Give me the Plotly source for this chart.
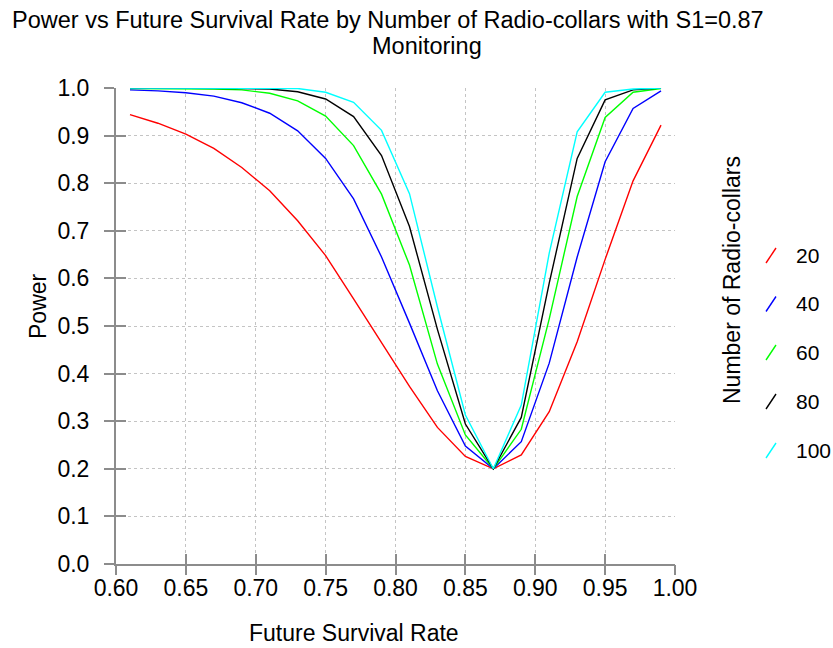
import plotly.graph_objects as go

# ---------------- data ----------------
survival_rate = [0.61, 0.63, 0.65, 0.67, 0.69, 0.71, 0.73, 0.75, 0.77, 0.79,
                 0.81, 0.83, 0.85, 0.87, 0.89, 0.91, 0.93, 0.95, 0.97, 0.99]

collar_counts = ["20", "40", "60", "80", "100"]

power_20 = [0.944, 0.926, 0.903, 0.873, 0.833, 0.784, 0.721, 0.648, 0.557, 0.466,
            0.373, 0.287, 0.226, 0.200, 0.229, 0.320, 0.467, 0.640, 0.805, 0.922]
power_40 = [0.996, 0.994, 0.990, 0.983, 0.969, 0.947, 0.910, 0.852, 0.767, 0.645,
            0.506, 0.364, 0.248, 0.200, 0.257, 0.422, 0.645, 0.845, 0.957, 0.994]
power_60 = [0.999, 0.999, 0.999, 0.998, 0.996, 0.989, 0.973, 0.941, 0.879, 0.777,
            0.628, 0.420, 0.271, 0.200, 0.283, 0.515, 0.772, 0.938, 0.991, 0.999]
power_80 = [1.000, 1.000, 1.000, 1.000, 0.999, 0.998, 0.992, 0.977, 0.940, 0.858,
            0.709, 0.493, 0.294, 0.200, 0.308, 0.590, 0.852, 0.975, 0.996, 1.000]
power_100 = [1.000, 1.000, 1.000, 1.000, 1.000, 1.000, 0.999, 0.991, 0.970, 0.911,
             0.778, 0.540, 0.313, 0.200, 0.334, 0.653, 0.908, 0.991, 0.998, 1.000]

x_tick_values = [0.60, 0.65, 0.70, 0.75, 0.80, 0.85, 0.90, 0.95, 1.00]
x_tick_labels = ["0.60", "0.65", "0.70", "0.75", "0.80", "0.85", "0.90", "0.95", "1.00"]
y_tick_values = [0.0, 0.1, 0.2, 0.3, 0.4, 0.5, 0.6, 0.7, 0.8, 0.9, 1.0]
y_tick_labels = ["0.0", "0.1", "0.2", "0.3", "0.4", "0.5", "0.6", "0.7", "0.8", "0.9", "1.0"]

series_values = [power_20, power_40, power_60, power_80, power_100]
series_colors = ["#ff0000", "#0000ff", "#00ff00", "#000000", "#00ffff"]

# ---------------- layout helpers ----------------
W, H = 833, 648
L, R, T, B = 116, 158, 88, 84
PW, PH = W - L - R, H - T - B
FONT = "Liberation Sans, Arial, sans-serif"
AXIS_GRAY = "#8c8c8c"
GRID_GRAY = "#c4c4c4"


def px(x):
    return (x - L) / PW


def py(y):
    return (H - B - y) / PH


fig = go.Figure()
for name, vals, color in zip(collar_counts, series_values, series_colors):
    fig.add_trace(go.Scatter(x=survival_rate, y=vals, mode="lines", name=name,
                             line=dict(color=color, width=1.4), showlegend=False))

# helper trace so the overlay axes (other tick halves) are drawn
fig.add_trace(go.Scatter(x=[survival_rate[0]], y=[power_20[0]], xaxis="x2", yaxis="y2",
                         mode="markers", marker=dict(opacity=0), showlegend=False,
                         hoverinfo="skip"))

tickfont = dict(size=23, family=FONT, color="black")

fig.update_layout(
    width=W, height=H,
    margin=dict(l=L, r=R, t=T, b=B),
    paper_bgcolor="white", plot_bgcolor="white",
    font=dict(family=FONT, size=23, color="black"),
    showlegend=False,
    xaxis=dict(range=[0.6, 1.0], tickvals=x_tick_values, ticktext=x_tick_labels,
               showgrid=True, gridcolor=GRID_GRAY, griddash="dot", gridwidth=1,
               showline=True, linecolor=AXIS_GRAY, linewidth=2,
               ticks="inside", ticklen=10, tickwidth=2, tickcolor=AXIS_GRAY,
               ticklabelstandoff=2, zeroline=False, tickfont=tickfont),
    yaxis=dict(range=[0, 1.0], tickvals=y_tick_values, ticktext=y_tick_labels,
               showgrid=True, gridcolor=GRID_GRAY, griddash="dot", gridwidth=1,
               showline=True, linecolor=AXIS_GRAY, linewidth=2,
               ticks="outside", ticklen=10, tickwidth=2, tickcolor=AXIS_GRAY,
               ticklabelstandoff=10, zeroline=False, tickfont=tickfont),
    xaxis2=dict(range=[0.6, 1.0], tickvals=x_tick_values, overlaying="x", anchor="y2",
                side="bottom", ticks="outside", ticklen=10, tickwidth=2, tickcolor=AXIS_GRAY,
                showticklabels=False, showgrid=False, showline=False, zeroline=False),
    yaxis2=dict(range=[0, 1.0], tickvals=y_tick_values, overlaying="y", anchor="x2",
                side="left", ticks="inside", ticklen=10, tickwidth=2, tickcolor=AXIS_GRAY,
                showticklabels=False, showgrid=False, showline=False, zeroline=False),
)

annotations = [
    dict(text="Power vs Future Survival Rate by Number of Radio-collars with S1=0.87",
         x=px(388), y=py(20), xanchor="center", yanchor="middle",
         font=dict(size=23.5, family=FONT, color="black")),
    dict(text="Monitoring", x=px(427), y=py(46), xanchor="center", yanchor="middle",
         font=dict(size=23.5, family=FONT, color="black")),
    dict(text="Power", x=px(38), y=py(306), textangle=-90, xanchor="center", yanchor="middle"),
    dict(text="Future Survival Rate", x=px(354), y=py(633), xanchor="center", yanchor="middle"),
    dict(text="Number of Radio-collars", x=px(732), y=py(280), textangle=-90,
         xanchor="center", yanchor="middle"),
]

legend_rows = [255, 303.5, 352, 401, 450]
shapes = []
for label, color, ly in zip(collar_counts, series_colors, legend_rows):
    annotations.append(dict(text=label, x=px(794), y=py(ly), xanchor="left", yanchor="middle",
                            font=dict(size=21, family=FONT, color="black")))
    shapes.append(dict(type="line", xref="paper", yref="paper",
                       x0=px(766), y0=py(ly + 8), x1=px(776), y1=py(ly - 7),
                       line=dict(color=color, width=1.4)))

for a in annotations:
    a.setdefault("xref", "paper")
    a.setdefault("yref", "paper")
    a.setdefault("showarrow", False)
    a.setdefault("font", dict(size=23, family=FONT, color="black"))

fig.update_layout(annotations=annotations, shapes=shapes)

# remove the browser's default 8px body margin so the figure sits at the window origin
fig.write_html("out.html",
               config={"displayModeBar": False},
               post_script="document.body.style.margin='0px';document.body.style.padding='0px';")
